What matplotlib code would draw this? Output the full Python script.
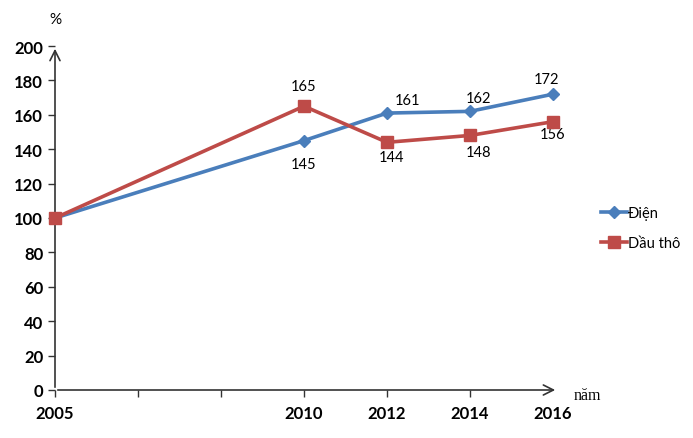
import matplotlib
matplotlib.use("Agg")
import matplotlib.pyplot as plt
import numpy as np

plt.rcParams['font.family'] = ['Lato', 'DejaVu Sans']

# du lieu
nam = ["2005", "2010", "2012", "2014", "2016"]
vi_tri = [0, 3, 4, 5, 6]  # vi tri tren truc (co 2 khoang trong giua 2005 va 2010)
dien = [100, 145, 161, 162, 172]
dau_tho = [100, 165, 144, 148, 156]
nhan_dien = ["", "145", "161", "162", "172"]
nhan_dau = ["", "165", "144", "148", "156"]

xanh = "#4A7EBB"
do = "#BE4B48"

fig = plt.figure(figsize=(6.93, 4.39), dpi=100)
ax = fig.add_axes([55 / 693, 48 / 439, 498 / 693, 344 / 439])

ax.plot(vi_tri, dien, color=xanh, lw=2.6, marker="D", ms=6.5, label="Điện", clip_on=False, zorder=3)
ax.plot(vi_tri, dau_tho, color=do, lw=2.6, marker="s", ms=8, label="Dầu thô", clip_on=False, zorder=4)

# nhan so lieu
lech_dien = [(0, 0), (0, -13.5), (0.25, 7.5), (0.1, 7.5), (-0.08, 9)]
lech_dau = [(0, 0), (0, 12), (0.05, -8.5), (0.1, -9.5), (0, -7)]
for x, y, t, (dx, dy) in zip(vi_tri, dien, nhan_dien, lech_dien):
    if t:
        ax.text(x + dx, y + dy, t, ha="center", va="center", fontsize=10.5)
for x, y, t, (dx, dy) in zip(vi_tri, dau_tho, nhan_dau, lech_dau):
    if t:
        ax.text(x + dx, y + dy, t, ha="center", va="center", fontsize=10.5)

ax.set_xlim(0, 6)
ax.set_ylim(0, 200)
ax.set_yticks(np.arange(0, 201, 20))
ax.set_xticks(range(7))
ax.set_xticklabels(["2005", "", "", "2010", "2012", "2014", "2016"])
ax.tick_params(axis="both", labelsize=12, direction="out", length=5, width=1, color="#333333")
for lab in ax.get_xticklabels() + ax.get_yticklabels():
    lab.set_fontweight("bold")
ax.tick_params(axis="x", pad=6)
ax.xaxis.get_major_ticks()[-1].tick1line.set_visible(False)

for s in ax.spines.values():
    s.set_visible(False)

# truc co mui ten
ax.annotate("", xy=(1.01, 0), xytext=(0, 0), xycoords="axes fraction",
            arrowprops=dict(arrowstyle="->", color="#333333", lw=1.2, mutation_scale=18))
ax.annotate("", xy=(0, 1.0), xytext=(0, 0), xycoords="axes fraction",
            arrowprops=dict(arrowstyle="->", color="#333333", lw=1.2, mutation_scale=18))

fig.text(55 / 693, 1 - 20 / 439, "%", ha="center", va="center", fontsize=11)
fig.text(587 / 693, 1 - 396 / 439, "năm", ha="center", va="center", fontsize=11.5,
         family=["Liberation Serif", "DejaVu Serif"])

ax.legend(loc="center left", bbox_to_anchor=(1.07, 0.47), frameon=False, fontsize=10.5,
          handlelength=1.8, handletextpad=0.05, labelspacing=1.1)

fig.savefig("out.png", dpi=100)
